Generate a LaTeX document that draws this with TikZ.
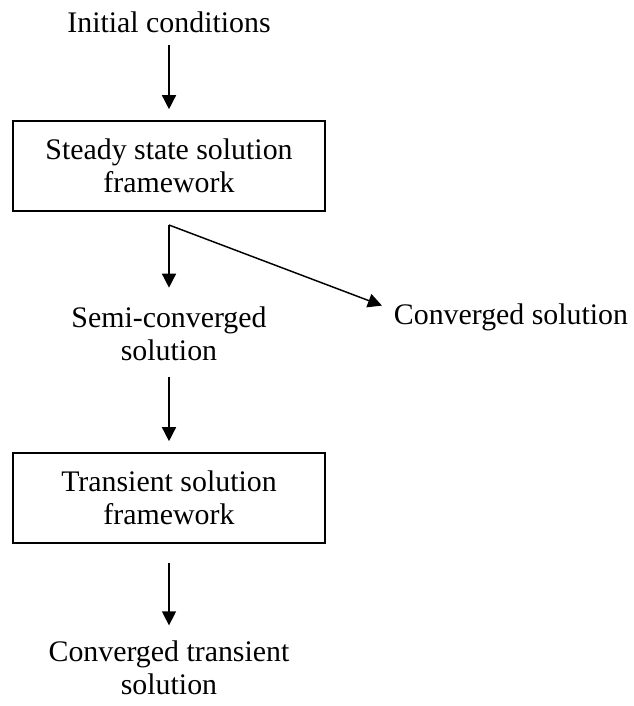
\documentclass[tikz,border=0pt]{standalone}
\usepackage{fontspec}
\setmainfont{Liberation Serif}
\usetikzlibrary{arrows.meta,calc}
\begin{document}
\begin{tikzpicture}[x=0.75pt, y=-0.75pt, line width=1.1pt,
  txt/.style={inner sep=0pt, align=center, font=\fontsize{22.4}{24.6}\selectfont},
  box/.style={txt, draw, line width=1.2pt, minimum width=234pt, minimum height=67.5pt},
  ->/.style={-{Triangle[length=10.5pt, width=10.5pt]}}]
\useasboundingbox (0,0) rectangle (634,706);
\node[txt] (init) at (169,22) {Initial conditions};
\node[box] (steady) at (169,166) {Steady state solution\\framework};
\coordinate (fork) at (169,225);
\node[txt] (semi) at (169,334) {Semi-converged\\solution};
\node[txt] (conv) at (511,317) {Converged solution};
\node[box] (transient) at (169,498) {Transient solution\\framework};
\node[txt] (final) at (169,668) {Converged transient\\solution};
\draw[->, shorten <=9pt, shorten >=8.25pt] (init) -- (steady);
\draw[->, shorten >=14pt] (fork) -- (fork |- semi.north);
\draw[->, shorten >=9pt] (fork) -- ($(conv.west)!0.5!(conv.north west)$);
\draw[->, shorten <=11.25pt, shorten >=8.25pt] (semi) -- (transient);
\draw[->, shorten <=14.25pt, shorten >=11.25pt] (transient) -- (final);
\end{tikzpicture}
\end{document}
